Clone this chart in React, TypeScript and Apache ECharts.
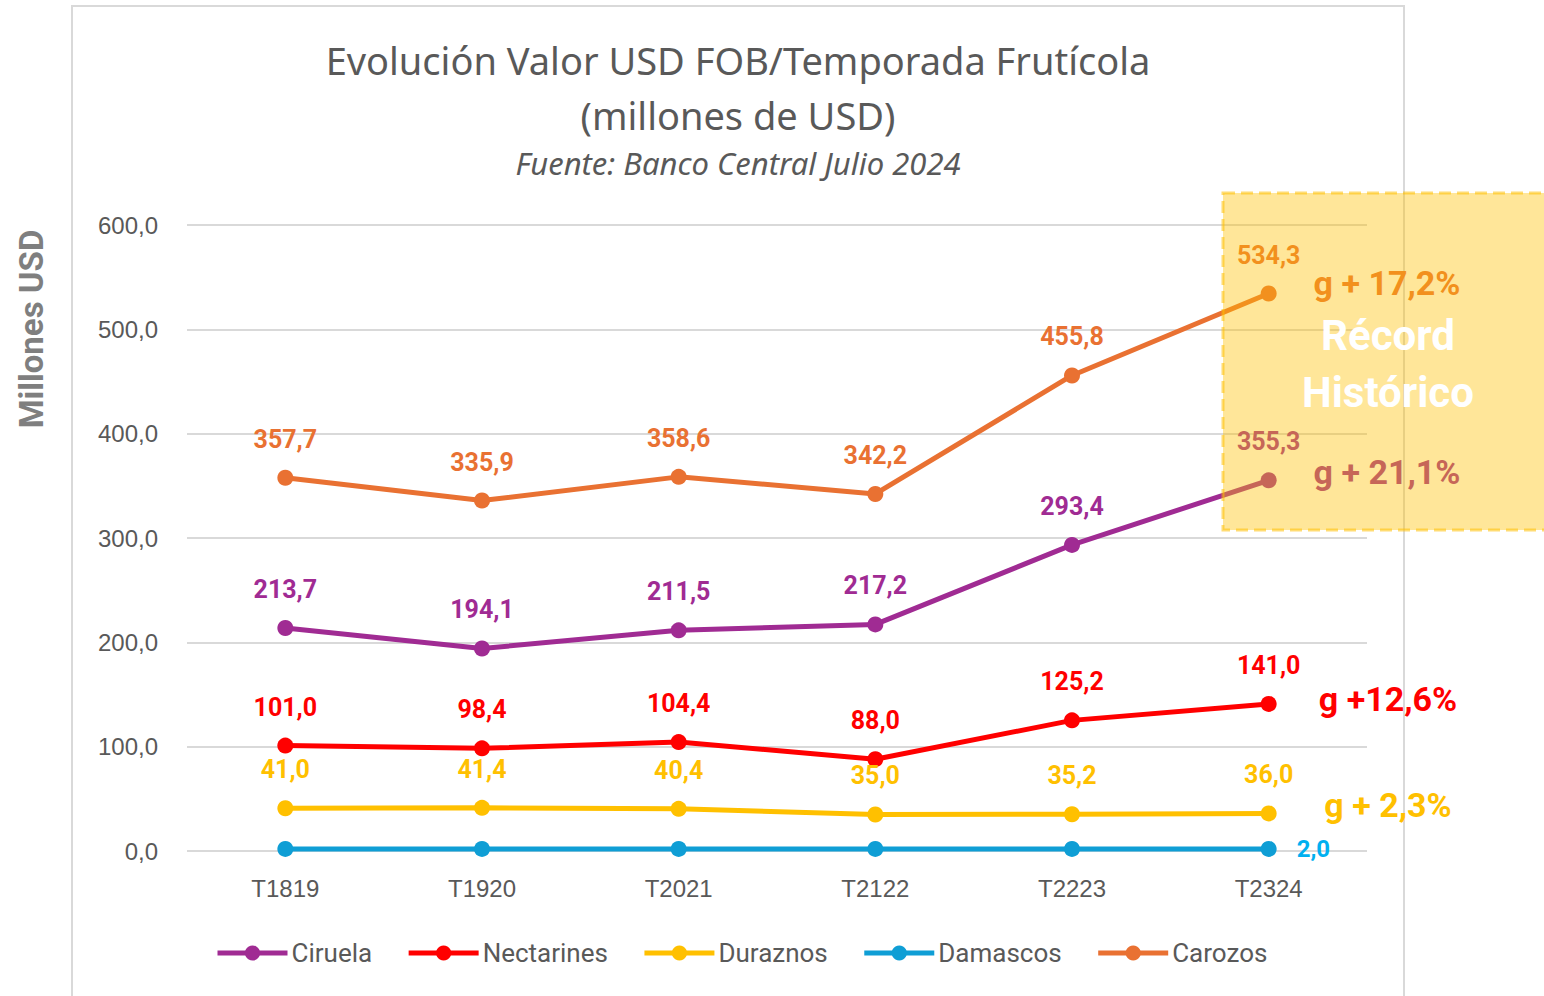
import React, { useEffect, useRef } from "react";
import * as echarts from "echarts";

const categories = ["T1819", "T1920", "T2021", "T2122", "T2223", "T2324"];
const ciruela = [213.7, 194.1, 211.5, 217.2, 293.4, 355.3];
const nectarines = [101.0, 98.4, 104.4, 88.0, 125.2, 141.0];
const duraznos = [41.0, 41.4, 40.4, 35.0, 35.2, 36.0];
const damascos = [2.0, 2.0, 2.0, 2.0, 2.0, 2.0];
const carozos = [357.7, 335.9, 358.6, 342.2, 455.8, 534.3];
const yTicks = { min: 0, max: 600, interval: 100 };

const fmt = (v: number) => v.toFixed(1).replace(".", ",");
const ROBOTO = "Roboto, 'Liberation Sans', Arial, sans-serif";
const ARIAL = "'Liberation Sans', Arial, sans-serif";
const TITLE_FONT = "'Noto Sans', 'Open Sans', sans-serif";

export default function App() {
  const ref = useRef<HTMLDivElement>(null);
  useEffect(() => {
    if (!ref.current) return;
    const chart = echarts.init(ref.current, undefined, { renderer: "svg" });

    const mk = (name: string, data: number[], color: string, labelColor: string, onlyLast = false) => ({
      name,
      type: "line",
      data,
      symbol: "circle",
      symbolSize: 16,
      lineStyle: { width: 5, color },
      itemStyle: { color },
      label: {
        show: true,
        position: onlyLast ? "right" : "top",
        distance: onlyLast ? 20 : 18,
        color: labelColor,
        fontFamily: ROBOTO,
        fontWeight: "bold",
        fontSize: onlyLast ? 24 : 25,
        formatter: (p: any) => (onlyLast && p.dataIndex !== data.length - 1 ? "" : fmt(p.value)),
      },
    });

    const boxText = (text: string, x: number, y: number, fill: string, size: number, z: number) => ({
      type: "text",
      z,
      x,
      y,
      style: { text, fill, font: `bold ${size}px ${ROBOTO}`, textAlign: "center", textVerticalAlign: "middle" },
    });

    chart.setOption({
      animation: false,
      backgroundColor: "#ffffff",
      grid: { left: 187, right: 177, top: 225, bottom: 145 },
      xAxis: {
        type: "category",
        data: categories,
        boundaryGap: true,
        axisLine: { show: false },
        axisTick: { show: false },
        axisLabel: { color: "#595959", fontSize: 24, margin: 25, fontFamily: ARIAL },
      },
      yAxis: {
        type: "value",
        min: yTicks.min,
        max: yTicks.max,
        interval: yTicks.interval,
        axisLine: { show: false },
        axisTick: { show: false },
        splitLine: { lineStyle: { color: "#d9d9d9", width: 2 } },
        axisLabel: {
          color: "#595959",
          fontSize: 24,
          margin: 29,
          fontFamily: ARIAL,
          formatter: (v: number) => fmt(v),
        },
      },
      legend: {
        bottom: 25,
        left: 210,
        itemWidth: 70,
        itemHeight: 19,
        itemGap: 34,
        lineStyle: { width: 5 },
        textStyle: { color: "#595959", fontSize: 26, fontFamily: ROBOTO, padding: [0, 0, 0, -1] },
        data: ["Ciruela", "Nectarines", "Duraznos", "Damascos", "Carozos"],
      },
      series: [
        mk("Ciruela", ciruela, "#A02B93", "#A02B93"),
        mk("Nectarines", nectarines, "#FF0000", "#FF0000"),
        mk("Duraznos", duraznos, "#FFC000", "#FFC000"),
        mk("Damascos", damascos, "#0F9ED5", "#00B0F0", true),
        mk("Carozos", carozos, "#E97132", "#E97132"),
      ],
      graphic: [
        {
          type: "rect",
          z: -10,
          shape: { x: 72, y: 6, width: 1332, height: 1000 },
          style: { fill: "none", stroke: "#d9d9d9", lineWidth: 2 },
          silent: true,
        },
        {
          type: "text",
          x: 738,
          y: 60,
          style: {
            text: "Evolución Valor USD FOB/Temporada Frutícola",
            fill: "#595959",
            font: `38px ${TITLE_FONT}`,
            textAlign: "center",
            textVerticalAlign: "middle",
          },
        },
        {
          type: "text",
          x: 738,
          y: 115,
          style: {
            text: "(millones de USD)",
            fill: "#595959",
            font: `38px ${TITLE_FONT}`,
            textAlign: "center",
            textVerticalAlign: "middle",
          },
        },
        {
          type: "text",
          x: 738,
          y: 163,
          style: {
            text: "Fuente: Banco Central Julio 2024",
            fill: "#595959",
            font: `italic 31px ${TITLE_FONT}`,
            textAlign: "center",
            textVerticalAlign: "middle",
          },
        },
        {
          type: "text",
          x: 31,
          y: 329,
          rotation: Math.PI / 2,
          style: {
            text: "Millones USD",
            fill: "#7f7f7f",
            font: `bold 33px ${ROBOTO}`,
            textAlign: "center",
            textVerticalAlign: "middle",
          },
        },
        boxText("g + 17,2%", 1387, 283, "#E97132", 34, 50),
        boxText("g + 21,1%", 1387, 472, "#A02B93", 34, 50),
        {
          type: "rect",
          z: 100,
          shape: { x: 1223, y: 193, width: 330, height: 337 },
          style: { fill: "rgba(255,192,0,0.4)", stroke: "rgba(255,192,0,0.55)", lineWidth: 3, lineDash: [12, 6] },
          silent: true,
        },
        boxText("Récord", 1388, 335, "#ffffff", 42, 101),
        boxText("Histórico", 1388, 392, "#ffffff", 42, 101),
        boxText("g +12,6%", 1388, 699, "#FF0000", 34, 101),
        boxText("g + 2,3%", 1388, 805, "#FFC000", 34, 101),
      ],
    });
    return () => chart.dispose();
  }, []);
  return <div ref={ref} style={{ position: "absolute", left: 0, top: 0, width: 1544, height: 996 }} />;
}
